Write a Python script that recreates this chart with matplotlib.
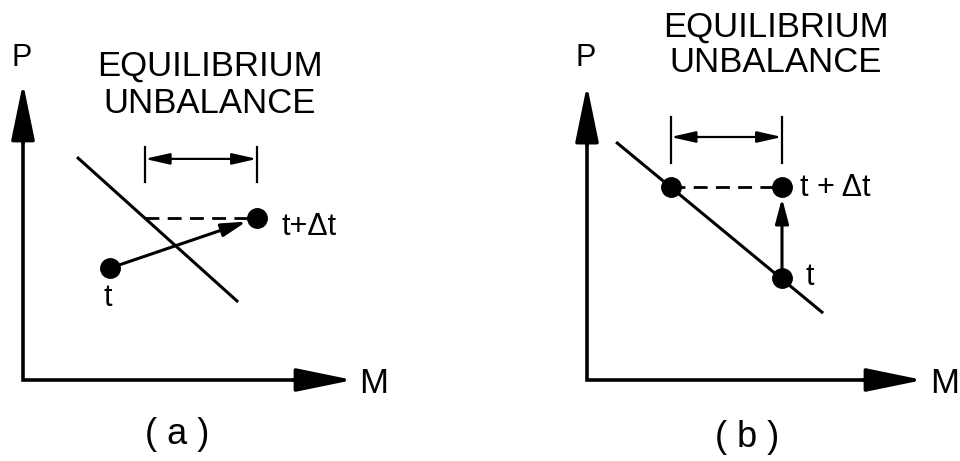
import numpy as np
import matplotlib.pyplot as plt

plt.rcParams['font.family'] = ['Liberation Sans', 'DejaVu Sans']

# values in (M, P) units, origin at the corner of each panel
# panel (a)
a_axis_end = (11.0, 9.9)
a_line_M = [1.8, 7.17]
a_line_P = [7.43, 2.6]
a_t = (2.9, 3.73)
a_next = (7.8, 5.4)

# panel (b)
b_axis_end = (11.2, 9.83)
b_line_M = [0.97, 7.87]
b_line_P = [7.93, 2.23]
b_t = (6.5, 3.4)
b_next = (6.5, 6.43)

title_lines = ["EQUILIBRIUM", "UNBALANCE"]

unit = 30.0  # pixels per unit
fig = plt.figure(figsize=(9.6, 4.61), dpi=100)


def panel_axes(left_px, origin_px):
    ox, oy = origin_px
    ax = fig.add_axes([left_px / 960.0, 0, 480 / 960.0, 1])
    ax.set_xlim((left_px - ox) / unit, (left_px + 480 - ox) / unit)
    ax.set_ylim((oy - 461) / unit, oy / unit)
    ax.axis('off')
    return ax


def eq_M_at(line_M, line_P, P):
    # M on the equilibrium line for a given P
    slope = (line_P[1] - line_P[0]) / (line_M[1] - line_M[0])
    return line_M[0] + (P - line_P[0]) / slope


def draw_axes(ax, axis_end):
    Mend, Pend = axis_end
    ax.plot([0, 0, Mend - 1.0], [Pend - 1.0, 0, 0], color='black', lw=2.6,
            solid_joinstyle='miter', solid_capstyle='butt')
    big = dict(arrowstyle='-|>,head_length=1.75,head_width=0.36', mutation_scale=20,
               lw=2.6, color='black', shrinkA=0, shrinkB=0)
    ax.annotate("", xy=(Mend, 0), xytext=(Mend - 2.0, 0), arrowprops=big)
    ax.annotate("", xy=(0, Pend), xytext=(0, Pend - 2.0), arrowprops=big)


def draw_bracket(ax, M0, M1, P_lo, P_hi, P_arrow):
    ax.plot([M0, M0], [P_lo, P_hi], color='black', lw=1.6)
    ax.plot([M1, M1], [P_lo, P_hi], color='black', lw=1.6)
    ax.annotate("", xy=(M1, P_arrow), xytext=(M0, P_arrow),
                arrowprops=dict(arrowstyle='<|-|>,head_length=0.75,head_width=0.17',
                                mutation_scale=20, lw=1.6, color='black',
                                shrinkA=0, shrinkB=0))


def step_arrow(ax, start, end):
    ax.annotate("", xy=end, xytext=start,
                arrowprops=dict(arrowstyle='-|>,head_length=0.75,head_width=0.2',
                                mutation_scale=20, lw=2.2, color='black',
                                shrinkA=0, shrinkB=8))


# ---- panel (a)
ax = panel_axes(0, (23, 380))
draw_axes(ax, a_axis_end)
ax.plot(a_line_M, a_line_P, color='black', lw=2.2, solid_capstyle='butt')
a_eq_M = eq_M_at(a_line_M, a_line_P, a_next[1])
ax.plot([a_eq_M, a_next[0]], [a_next[1], a_next[1]], color='black', lw=2.0,
        linestyle=(0, (5, 3)))
draw_bracket(ax, a_eq_M, a_next[0], 6.6, 7.77, 7.37)
step_arrow(ax, a_t, a_next)
ax.plot([a_t[0], a_next[0]], [a_t[1], a_next[1]], 'o', color='black', ms=14, zorder=5)

ax.text(-0.03, 10.73, "P", fontsize=22, ha='center', va='center')
ax.text(11.7, -0.1, "M", fontsize=25, ha='center', va='center')
ax.text(6.23, 10.47, title_lines[0], fontsize=25, ha='center', va='center')
ax.text(6.23, 9.23, title_lines[1], fontsize=25, ha='center', va='center')
ax.text(2.83, 2.73, "t", fontsize=22, ha='center', va='center')
ax.text(8.63, 5.1, "t+\u0394t", fontsize=22, ha='left', va='center')
ax.text(5.13, -1.83, "( a )", fontsize=26, ha='center', va='center')

# ---- panel (b)
ax = panel_axes(480, (587, 380))
draw_axes(ax, b_axis_end)
ax.plot(b_line_M, b_line_P, color='black', lw=2.2, solid_capstyle='butt')
b_eq_M = eq_M_at(b_line_M, b_line_P, b_next[1])
ax.plot([b_eq_M, b_next[0]], [b_next[1], b_next[1]], color='black', lw=2.0,
        linestyle=(0, (5, 3)))
draw_bracket(ax, b_eq_M, b_next[0], 7.23, 8.77, 8.1)
step_arrow(ax, b_t, b_next)
ax.plot([b_eq_M, b_next[0], b_t[0]], [b_next[1], b_next[1], b_t[1]], 'o',
        color='black', ms=14, zorder=5)

ax.text(-0.03, 10.73, "P", fontsize=22, ha='center', va='center')
ax.text(11.93, -0.1, "M", fontsize=25, ha='center', va='center')
ax.text(6.3, 11.77, title_lines[0], fontsize=25, ha='center', va='center')
ax.text(6.3, 10.57, title_lines[1], fontsize=25, ha='center', va='center')
ax.text(7.27, 3.43, "t", fontsize=22, ha='left', va='center')
ax.text(7.1, 6.4, "t + \u0394t", fontsize=22, ha='left', va='center')
ax.text(5.33, -1.9, "( b )", fontsize=26, ha='center', va='center')

fig.savefig("out.png", dpi=100, facecolor='white')
